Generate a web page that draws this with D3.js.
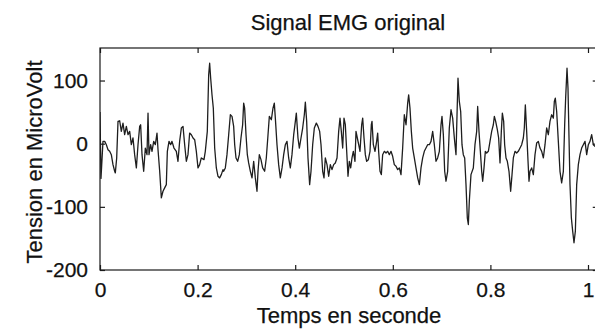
<!DOCTYPE html>
<html>
<head>
<meta charset="utf-8">
<script src="https://cdn.jsdelivr.net/npm/d3@7"></script>
<style>
  html, body { margin: 0; padding: 0; background: #fff; }
  svg { display: block; font-family: "Liberation Sans", Arial, sans-serif; }
</style>
</head>
<body>
<svg id="chart" width="595" height="329"></svg>
<script>
// ---- Data ----
const title = "Signal EMG original";
const xLabel = "Temps en seconde";
const yLabel = "Tension en MicroVolt";
const xTicks = [0, 0.2, 0.4, 0.6, 0.8, 1];
const xTickLabels = ["0", "0.2", "0.4", "0.6", "0.8", "1"];
const yTicks = [-200, -100, 0, 100];
const yTickLabels = ["-200", "-100", "0", "100"];
const xDomain = [0, 1.02];
const yDomain = [-200, 151.5];

// time (s)
const times = [
  0, 0.002, 0.0061, 0.0096, 0.013, 0.0164, 0.0198, 0.0232, 0.0266, 0.0301, 0.0314, 0.0342,
  0.0369, 0.0403, 0.0437, 0.0471, 0.0505, 0.054, 0.0574, 0.0608, 0.0642, 0.0676, 0.071, 0.0745,
  0.0779, 0.0813, 0.0833, 0.0861, 0.0895, 0.0929, 0.0963, 0.0984, 0.1004, 0.1038, 0.1066, 0.11,
  0.1134, 0.1168, 0.1189, 0.1223, 0.1257, 0.1291, 0.1325, 0.1359, 0.138, 0.1414, 0.1448, 0.1475,
  0.1516, 0.1564, 0.1598, 0.1632, 0.1667, 0.1701, 0.1735, 0.1769, 0.1803, 0.1837, 0.1872, 0.1906,
  0.194, 0.1974, 0.2008, 0.2042, 0.2076, 0.2131, 0.2158, 0.2199, 0.2227, 0.2247, 0.2268, 0.2295,
  0.2322, 0.235, 0.2384, 0.2418, 0.2452, 0.2486, 0.252,
  0.2534, 0.2568, 0.2602, 0.2637, 0.2671, 0.2705, 0.2739, 0.276, 0.2787, 0.2821, 0.2855, 0.2889,
  0.2923, 0.2944, 0.2964, 0.2992, 0.3019, 0.3046, 0.3081, 0.3115, 0.3149, 0.3183, 0.3217, 0.3238,
  0.3265, 0.3299, 0.3333, 0.3374, 0.3408, 0.3443, 0.347, 0.3511, 0.3545, 0.3572, 0.3593, 0.3627,
  0.3661, 0.3695, 0.373, 0.3764, 0.3798, 0.3832, 0.3866, 0.39, 0.3934, 0.3969, 0.4003, 0.4023,
  0.4057, 0.4085, 0.4119, 0.4153, 0.4187, 0.4208, 0.4235, 0.4262, 0.4296, 0.4324, 0.4358, 0.4392,
  0.4433, 0.4467, 0.4501, 0.4529, 0.4563, 0.459, 0.4617, 0.4652, 0.4686, 0.472, 0.4754, 0.4788,
  0.4822, 0.4857, 0.4891, 0.4918, 0.4945, 0.4973, 0.5, 0.5027,
  0.5082, 0.5109, 0.5137, 0.5164, 0.5191, 0.5225, 0.5246, 0.5273, 0.5301, 0.5328, 0.5362, 0.5383,
  0.541, 0.5437, 0.5464, 0.5499, 0.5533, 0.556, 0.5574, 0.5601, 0.5635, 0.5669, 0.569, 0.571,
  0.5738, 0.5765, 0.5792, 0.5827, 0.5861, 0.5895, 0.5929, 0.5963, 0.5997, 0.6031, 0.6066, 0.61,
  0.6134, 0.6168, 0.6202, 0.6236, 0.6271, 0.6305, 0.6325, 0.6352, 0.638, 0.6407, 0.6441, 0.6475,
  0.651, 0.6544, 0.6578, 0.6612, 0.6646, 0.668, 0.6714, 0.6749, 0.6783, 0.6817, 0.6851, 0.6885,
  0.6919, 0.6954, 0.6988, 0.7008, 0.7036, 0.7063, 0.709, 0.7124, 0.7158, 0.7193, 0.7227, 0.7261,
  0.7295, 0.7316, 0.7336, 0.7363, 0.7391, 0.7418, 0.7445, 0.7473, 0.75, 0.7527, 0.7548, 0.7568,
  0.7602,
  0.765, 0.7684, 0.7719, 0.7739, 0.7766, 0.7794, 0.7821, 0.7842, 0.7869, 0.7896, 0.7924, 0.7958,
  0.7992, 0.8026, 0.806, 0.8081, 0.8108, 0.8142, 0.8169, 0.8197, 0.8224, 0.8245, 0.8272, 0.8292,
  0.832, 0.8347, 0.8381, 0.8415, 0.8443, 0.847, 0.8504, 0.8538, 0.8572, 0.8607, 0.8641, 0.8675,
  0.8695, 0.8716, 0.8743, 0.8771, 0.8791, 0.8812, 0.8846, 0.888, 0.8914, 0.8948, 0.8982, 0.9016,
  0.9051, 0.9085, 0.9119, 0.9153, 0.9187, 0.9221, 0.9255, 0.929, 0.931, 0.933, 0.9358, 0.9392,
  0.9426, 0.946, 0.9495, 0.9522, 0.9542, 0.957, 0.959, 0.9611, 0.9631, 0.9659, 0.9686, 0.9713,
  0.9741, 0.9768, 0.9802, 0.9836, 0.987, 0.9904, 0.9939, 0.9973, 1.0007, 1.0041, 1.0075, 1.0109,
  1.0143, 1.018
];

// tension (µV)
const tension = [
  50, -55, 3.7, 3.7, -1.6, -9.5, -12.1, -17.4, -33.2, -43.7, -46.3, -22.6,
  35.3, 36.3, 19.5, 32.6, 14.2, 27.4, 14.2, 19.5, -1.6, 9, -17.4, -38.4,
  -1.6, 27.4, 30, -17.4, -43.7, -6.9, -17.4, 48.4, -17.4, -1.6, -12.1, 3.7,
  -1.6, 16.8, -9.5, -43.7, -85.8, -75.3, -70, -64.8, -12.1, 3.7, -1.6, 3.7,
  -6.9, -12.1, -27.9, 3.7, 24.8, 27.4, -1.6, -27.9, -17.4, 16.8, 14.2, 9,
  6.3, -12.1, -38.4, -33.2, -22.6, -25.3, -12.1, 19.5, 109, 127.4, 103.7, 77.4,
  56.3, -6.9, -38.4, -51.6, -54.2, -49, -41.1,
  -43.7, -38.4, -17.4, 14.2, 45.8, 43.2, 27.4, -1.6, -22.6, -27.9, -17.4, 9,
  30, 64.2, 56.3, 14.2, -17.4, -30.5, -43.7, -54.2, -27.9, -54.2, -75.3, -43.7,
  -17.4, -25.3, -38.4, -43.7, -22.6, 14.2, 43.2, 37.9, 56.3, 64.2, 40.5, -1.6,
  -33.2, -54.2, -38.4, -17.4, -1.6, 3.7, -22.6, -38.4, -17.4, 14.2, 35.3, 48.4,
  9, -6.9, 9, 24.8, 45.8, 65.8, 35.3, -22.6, -64.8, -43.7, -1.6, 24.8,
  32.6, 27.4, 19.5, -1.6, -43.7, -54.2, -22.6, -33.2, -51.6, -33.2, -41.1, -33.2,
  -30.5, -22.6, 19.5, 40.5, 19.5, -6.9, 40.5, 30,
  -51.6, -27.9, -38.4, -22.6, -12.1, -27.9, 19.5, 9, -1.6, -12.1, 30, 40.5,
  9, -17.4, -27.9, -25.3, -12.1, 30, 35.3, -1.6, -12.1, 3.7, 16.8, -12.1,
  -43.7, -49, -17.4, -12.1, -14.7, -12.1, -17.4, -12.1, -20, -33.2, -35.8, -41.1,
  -38.4, -49, -6.9, 45.8, 30, 64.2, 77.4, 56.3, 19.5, -6.9, -22.6, -38.4,
  -54.2, -64.8, -38.4, -22.6, -12.1, -6.9, -1.6, -1.6, 3.7, 19.5, -1.6, -27.9,
  -22.6, -12.1, 30, 43.2, 14.2, -43.7, -59.5, -43.7, 24.8, 53.7, 40.5, 9,
  -17.4, 45.8, 103.7, 66.9, 51, -1.6, -17.4, -22.6, -64.8, -117.4, -128, -91.1,
  -49,
  -38.4, -1.6, 19.5, 59, 19.5, -12.1, -43.7, -59.5, -38.4, -12.1, -14.7, -12.1,
  3.7, 19.5, 30, 43.2, 35.3, 22.1, 9, -30.5, 19.5, 48.4, 35.3, -1.6,
  -22.6, -27.9, -43.7, -75.3, -49, -22.6, -12.1, -14.7, -12.1, -6.9, -1.6, 9,
  24.8, 61.6, 19.5, -27.9, -59.5, -43.7, -38.4, -49, -17.4, 1, 3.7, -6.9,
  -12.1, -22.6, -1.6, 24.8, 14.2, 35.3, 45.8, 40.5, 66.9, 72.1, 51, 3.7,
  -43.7, -62.1, -43.7, 30, 72.1, 119.5, 88, 9, -64.8, -117.4, -138.5, -156.9,
  -138.5, -64.8, -33.2, -17.4, -6.9, -1.6, 3.7, -17.4, -1.6, 3.7, 14.2, -1.6,
  -4.2, 0
];

// ---- Layout ----
const W = 595, H = 329;
const L = 100, T = 48, B = 270;
const svg = d3.select("#chart");

const x = d3.scaleLinear().domain(xDomain).range([L, L + 488 * xDomain[1]]);
const y = d3.scaleLinear().domain(yDomain).range([B, T]);
const R = x(xDomain[1]);

svg.append("rect").attr("width", W).attr("height", H).attr("fill", "#fff");

svg.append("clipPath").attr("id", "clip")
  .append("rect").attr("x", L).attr("y", T).attr("width", R - L).attr("height", B - T);

const pts = times.map((t, i) => [t, tension[i]]);
const line = d3.line().x(d => x(d[0])).y(d => y(d[1]));
svg.append("path")
  .attr("clip-path", "url(#clip)")
  .attr("d", line(pts))
  .attr("fill", "none")
  .attr("stroke", "#1e1e1e")
  .attr("stroke-width", 1.3)
  .attr("stroke-linejoin", "round");

const ink = "#1a1a1a";
svg.append("rect").attr("x", L).attr("y", T).attr("width", R - L).attr("height", B - T)
  .attr("fill", "none").attr("stroke", ink).attr("stroke-width", 1.2);

const tl = 5;
const xb = svg.append("g").attr("transform", `translate(0,${B})`)
  .call(d3.axisBottom(x).tickValues(xTicks).tickSizeInner(-tl).tickSizeOuter(0)
    .tickFormat((d, i) => xTickLabels[i]).tickPadding(15));
const xt = svg.append("g").attr("transform", `translate(0,${T})`)
  .call(d3.axisTop(x).tickValues(xTicks).tickSizeInner(-tl).tickSizeOuter(0).tickFormat(""));
const yl = svg.append("g").attr("transform", `translate(${L},0)`)
  .call(d3.axisLeft(y).tickValues(yTicks).tickSizeInner(-tl).tickSizeOuter(0)
    .tickFormat((d, i) => yTickLabels[i]).tickPadding(12));
const yr = svg.append("g").attr("transform", `translate(${R},0)`)
  .call(d3.axisRight(y).tickValues(yTicks).tickSizeInner(-tl).tickSizeOuter(0).tickFormat(""));

[xb, xt, yl, yr].forEach(g => {
  g.select(".domain").remove();
  g.selectAll(".tick line").attr("stroke", ink).attr("stroke-width", 1.2);
  g.selectAll("text").attr("fill", "#111").attr("stroke", "#111").attr("stroke-width", 0.25)
    .style("font-family", '"Liberation Sans", Arial, sans-serif').style("font-size", "21px");
});
xb.selectAll("text").attr("dy", null).attr("y", 27);

const labelStyle = sel => sel.attr("fill", "#111").attr("stroke", "#111").attr("stroke-width", 0.25)
  .style("font-size", "22px");
svg.append("text").attr("x", 348).attr("y", 30).attr("text-anchor", "middle")
  .call(labelStyle).text(title);
svg.append("text").attr("x", 349).attr("y", 323).attr("text-anchor", "middle")
  .call(labelStyle).text(xLabel);
svg.append("text").attr("transform", "translate(41.5,162) rotate(-90)")
  .attr("text-anchor", "middle").call(labelStyle).text(yLabel);
</script>
</body>
</html>
